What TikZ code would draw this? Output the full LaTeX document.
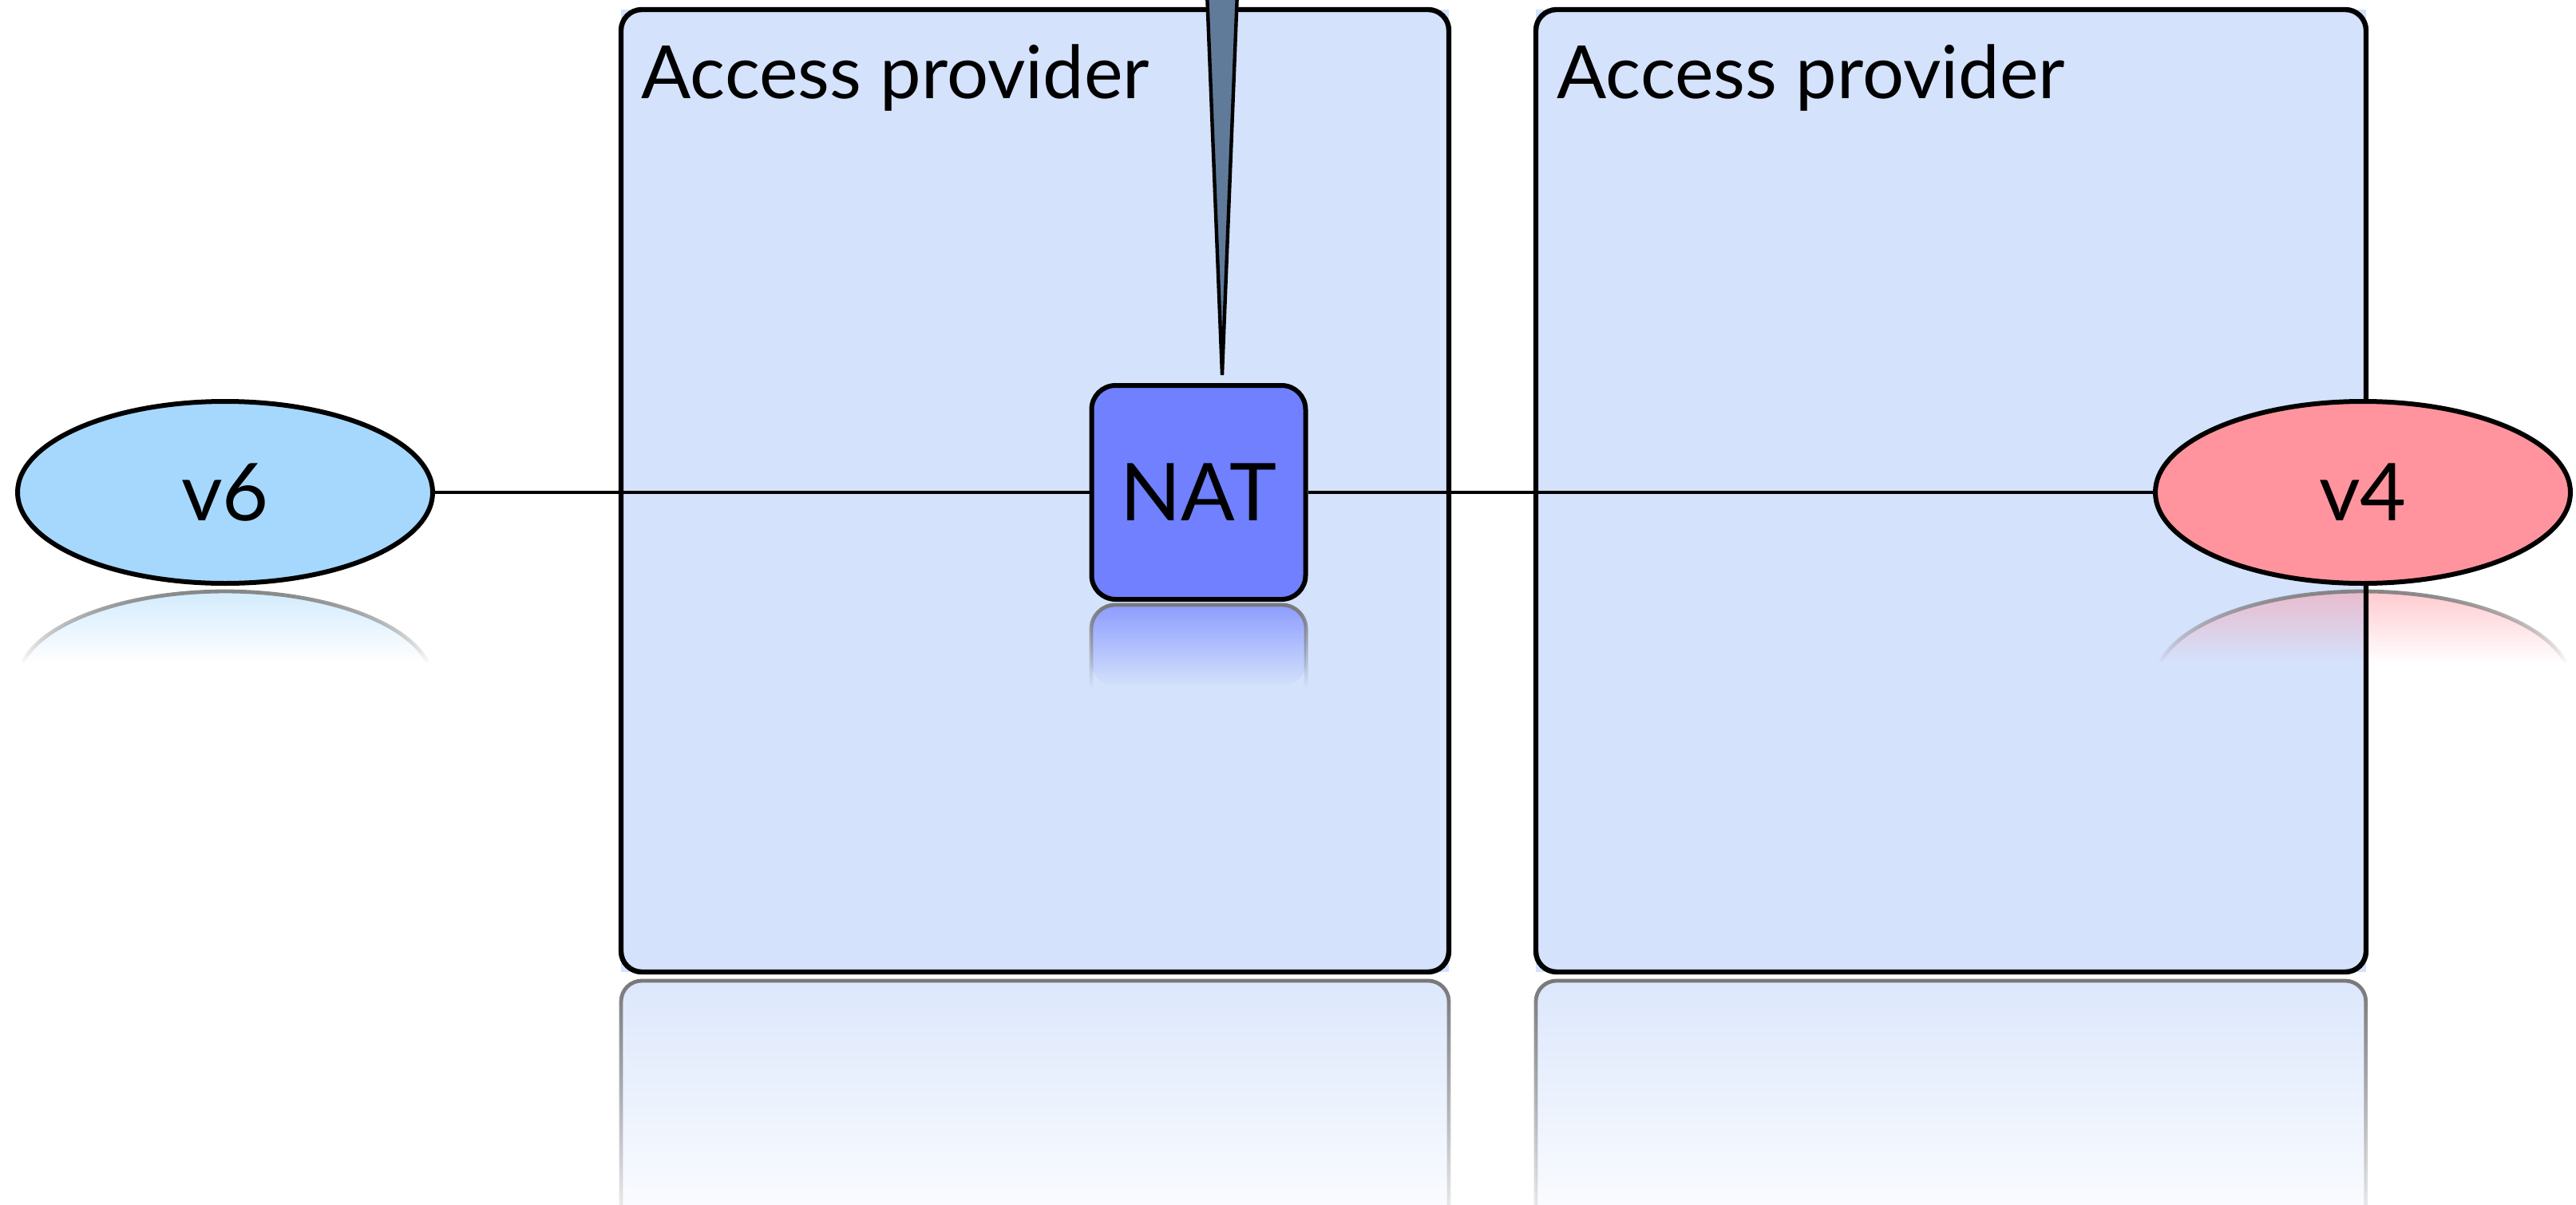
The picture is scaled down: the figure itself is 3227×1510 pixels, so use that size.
\documentclass[tikz,border=0pt]{standalone}
\usepackage{fontspec}
\setmainfont{Lato}
\usetikzlibrary{shapes.geometric,fadings}
\definecolor{boxfill}{RGB}{212,226,252}
\definecolor{v6fill}{RGB}{165,216,252}
\definecolor{v4fill}{RGB}{255,148,158}
\definecolor{natfill}{RGB}{112,128,255}
\definecolor{spikefill}{RGB}{96,122,154}
\definecolor{reflgray}{RGB}{120,120,120}
\tikzfading[name=fadedown, top color=transparent!0, bottom color=transparent!100]
\pgfdeclarelayer{back}
\pgfdeclarelayer{links}
\pgfsetlayers{back,links,main}
\tikzset{
  boxbg/.style={rectangle, fill=boxfill, minimum width=259.25pt, minimum height=301.5pt, inner sep=0pt, outer sep=0pt},
  boxline/.style={draw=black, line width=1.6pt, rounded corners=6.5pt},
  cloud/.style={ellipse, draw=black, line width=1.5pt, minimum width=130pt, minimum height=57pt, inner sep=0pt, font=\fontsize{25}{30}\selectfont},
  natbox/.style={rectangle, rounded corners=7.5pt, draw=black, line width=1.5pt, fill=natfill, minimum width=67pt, minimum height=67pt, inner sep=0pt, font=\fontsize{25}{30}\selectfont},
  link/.style={draw=black, line width=1.2pt},
  title/.style={anchor=base west, inner sep=0pt, font=\fontsize{23}{28}\selectfont},
  reflline/.style={draw=reflgray, line width=1.2pt, path fading=fadedown},
}
\begin{document}
\begin{tikzpicture}[x=0.25pt,y=-0.25pt]
\useasboundingbox (0,0) rectangle (3227,1510);

% main nodes
\node[cloud, fill=v6fill] (v6) at (282,617) {v6};
\node[cloud, fill=v4fill] (v4) at (2960,617) {v4};
\node[natbox] (nat) at (1501.5,617) {NAT};

\begin{pgfonlayer}{back}
  \fill[white] (0,0) rectangle (3227,1510);
  \node[boxbg] (box1) at (1296.5,615) {};
  \node[boxbg, minimum width=260pt] (box2) at (2444,615) {};
  % box reflections
  \fill[boxfill, fill opacity=0.8, path fading=fadedown, rounded corners=6.5pt]
    (778,1560) -- (778,1229) -- (1815,1229) -- (1815,1560) -- cycle;
  \draw[reflline, rounded corners=6.5pt] (778,1560) -- (778,1229) -- (1815,1229) -- (1815,1560);
  \fill[boxfill, fill opacity=0.8, path fading=fadedown, rounded corners=6.5pt]
    (1924,1560) -- (1924,1229) -- (2964,1229) -- (2964,1560) -- cycle;
  \draw[reflline, rounded corners=6.5pt] (1924,1560) -- (1924,1229) -- (2964,1229) -- (2964,1560);
  % ellipse reflections
  \fill[v6fill, fill opacity=0.55, path fading=fadedown] (28.4,830) arc (192.7:347.3:260 and 114) -- cycle;
  \draw[reflline] (28.4,830) arc (192.7:347.3:260 and 114);
  \fill[v4fill, fill opacity=0.55, path fading=fadedown] (2706.4,830) arc (192.7:347.3:260 and 114) -- cycle;
  \draw[reflline] (2706.4,830) arc (192.7:347.3:260 and 114);
  % NAT reflection
  \fill[natfill, fill opacity=0.7, path fading=fadedown, rounded corners=7.5pt]
    (1367,860) -- (1367,758) -- (1636,758) -- (1636,860) -- cycle;
  \draw[reflline, rounded corners=7.5pt] (1367,860) -- (1367,758) -- (1636,758) -- (1636,860);
  % box outlines
  \draw[boxline] (box1.south west) rectangle (box1.north east);
  \draw[boxline] (box2.south west) rectangle (box2.north east);
\end{pgfonlayer}

\begin{pgfonlayer}{links}
  \draw[link] (v6) -- (nat);
  \draw[link] (nat) -- (v4);
\end{pgfonlayer}

\node[title] (t1) at (803,123) {Access provider};
\node[title] (t2) at (1950,123) {Access provider};

% pointer spike from above
\coordinate (spiketip) at (1531,470);
\filldraw[fill=spikefill, draw=black, line width=1.1pt, line join=miter]
  (1512,-10) -- (spiketip) -- (1550,-10) -- cycle;
\end{tikzpicture}
\end{document}
